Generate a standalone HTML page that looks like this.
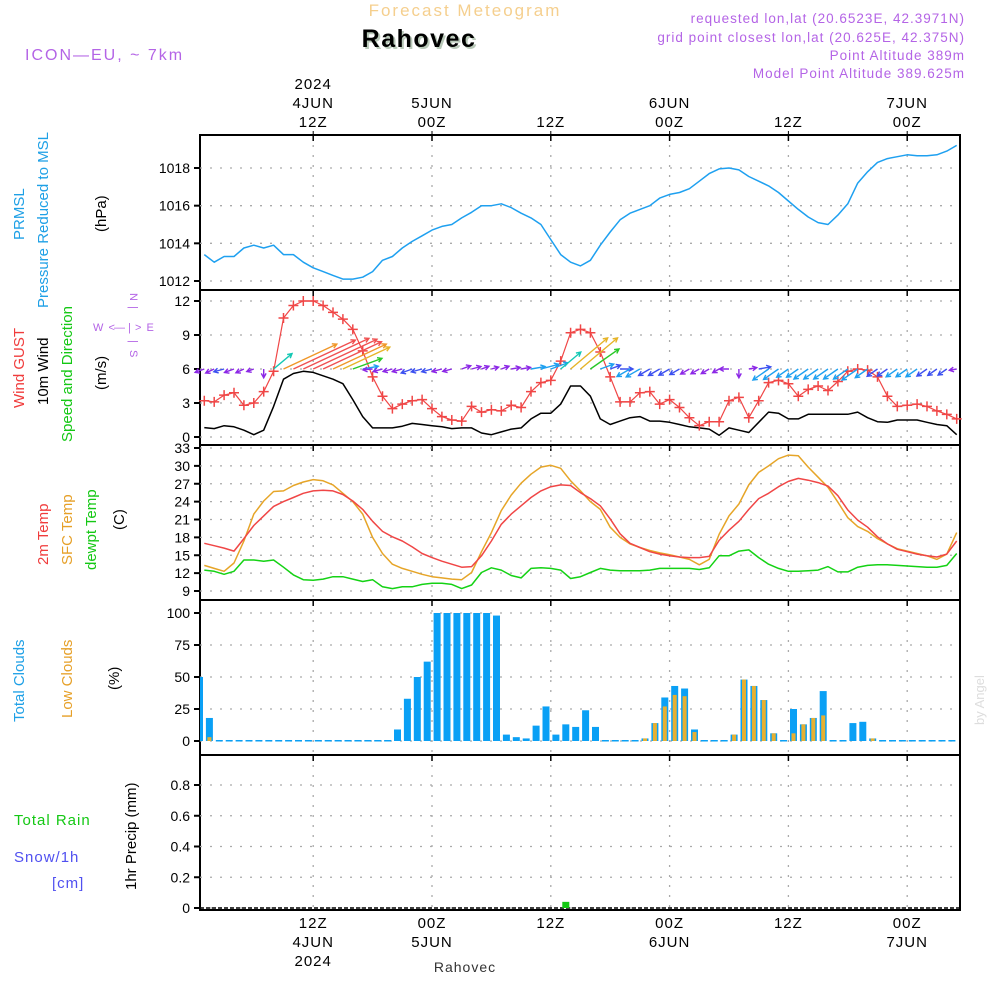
<!DOCTYPE html>
<html><head><meta charset="utf-8"><style>
body{margin:0;background:#fff;width:1000px;height:1000px;overflow:hidden}
svg{display:block}
text{font-family:"Liberation Sans",sans-serif}
</style></head><body>
<svg id="chart" width="1000" height="1000" xmlns="http://www.w3.org/2000/svg">
<g>
<text x="465" y="16" text-anchor="middle" font-size="17" fill="#f5cf8e" letter-spacing="2">Forecast Meteogram</text>
<text x="421" y="49" text-anchor="middle" font-size="25" font-weight="bold" font-family="Liberation Serif" fill="#b9c9b9" letter-spacing="1.5">Rahovec</text>
<text x="419" y="47" text-anchor="middle" font-size="25" font-weight="bold" font-family="Liberation Serif" fill="#000" letter-spacing="1.5">Rahovec</text>
<text x="25" y="60" font-size="16" fill="#b464e6" letter-spacing="2">ICON—EU, ~ 7km</text>
<g font-size="13.5" fill="#b464e6" text-anchor="end" letter-spacing="1">
<text x="965" y="23">requested lon,lat (20.6523E, 42.3971N)</text>
<text x="965" y="42">grid point closest lon,lat (20.625E, 42.375N)</text>
<text x="965" y="60">Point Altitude 389m</text>
<text x="965" y="78">Model Point Altitude 389.625m</text>
</g>
</g>
<g id="axes"></g>
<g id="marks"></g>
<g font-size="15">
<text transform="translate(24,240) rotate(-90)" fill="#1ea0e6">PRMSL</text>
<text transform="translate(48,308) rotate(-90)" fill="#1ea0e6">Pressure Reduced to MSL</text>
<text transform="translate(106,232) rotate(-90)" fill="#000">(hPa)</text>
<text transform="translate(24,408) rotate(-90)" fill="#f03c3c">Wind GUST</text>
<text transform="translate(48,405) rotate(-90)" fill="#000">10m Wind</text>
<text transform="translate(72,442) rotate(-90)" fill="#14c814">Speed and Direction</text>
<text transform="translate(106,390) rotate(-90)" fill="#000">(m/s)</text>
<text transform="translate(48,565) rotate(-90)" fill="#f03c3c">2m Temp</text>
<text transform="translate(72,565) rotate(-90)" fill="#e6a028">SFC Temp</text>
<text transform="translate(96,570) rotate(-90)" fill="#14c814">dewpt Temp</text>
<text transform="translate(124,530) rotate(-90)" fill="#000">(C)</text>
<text transform="translate(24,722) rotate(-90)" fill="#1ea0e6">Total Clouds</text>
<text transform="translate(72,718) rotate(-90)" fill="#e6a028">Low Clouds</text>
<text transform="translate(119,690) rotate(-90)" fill="#000">(%)</text>
<text x="14" y="825" fill="#14c814" letter-spacing="1">Total  Rain</text>
<text x="14" y="862" fill="#5050f0" letter-spacing="1">Snow/1h</text>
<text x="52" y="888" fill="#5050f0" letter-spacing="1">[cm]</text>
<text transform="translate(136,890) rotate(-90)" fill="#000">1hr Precip (mm)</text>
</g>
<g fill="#b464e6" font-size="11">
<text transform="translate(130,293) rotate(90)">N</text>
<text transform="translate(130,306) rotate(90)">|</text>
<text x="93" y="331" letter-spacing="1">W  &lt;</text>
<text x="128" y="331">|</text>
<text x="135" y="331" letter-spacing="1">&gt;  E</text>
<text x="114" y="331">—</text>
<text transform="translate(130,340) rotate(90)">|</text>
<text transform="translate(130,350) rotate(90)">S</text>
</g>
<text x="465" y="972" text-anchor="middle" font-size="14" font-family="Liberation Serif" fill="#333" letter-spacing="1">Rahovec</text>
<text transform="translate(984,725) rotate(-90)" font-size="13" font-family="Liberation Serif" fill="#ddd">by Angel</text>
</svg>
<script>
const pressure=[1013.4,1013.0,1013.3,1013.3,1013.75,1013.9,1013.75,1013.9,1013.4,1013.4,1013.0,1012.7,1012.5,1012.3,1012.1,1012.1,1012.2,1012.5,1013.1,1013.3,1013.75,1014.1,1014.4,1014.7,1014.9,1015.0,1015.35,1015.65,1016.0,1016.0,1016.1,1015.9,1015.6,1015.35,1015.0,1014.2,1013.4,1013.0,1012.8,1013.1,1013.9,1014.6,1015.25,1015.6,1015.8,1016.0,1016.4,1016.6,1016.7,1016.9,1017.3,1017.7,1017.95,1018.0,1017.9,1017.55,1017.3,1017.05,1016.7,1016.25,1015.8,1015.4,1015.1,1015.0,1015.5,1016.1,1017.2,1017.8,1018.3,1018.5,1018.6,1018.7,1018.65,1018.65,1018.7,1018.9,1019.2];
const gust=[3.2,3.1,3.7,3.9,2.8,3.0,4.0,5.8,10.5,11.6,12,12,11.6,11.0,10.4,9.5,7.6,5.3,3.6,2.5,2.9,3.2,3.3,2.5,1.8,1.5,1.4,2.7,2.2,2.4,2.3,2.8,2.6,4.0,4.8,5.0,6.7,9.2,9.5,9.2,7.5,5.3,3.1,3.1,3.9,4.0,2.9,3.3,2.6,1.7,1.0,1.35,1.35,3.2,3.5,1.7,3.2,4.8,5.0,4.7,3.6,4.2,4.5,4.1,4.9,5.8,6.0,5.9,5.3,3.6,2.7,2.8,2.9,2.7,2.3,2.0,1.6];
const wind=[0.83,0.74,1.0,0.9,0.6,0.2,0.6,2.7,5.1,5.6,5.8,5.7,5.4,5.1,4.7,3.3,1.8,0.8,0.8,0.8,0.95,1.2,1.1,1.0,0.9,0.74,0.8,0.8,0.35,0.2,0.45,0.7,0.8,1.6,2.1,2.1,2.9,4.5,4.5,3.6,1.6,1.1,1.4,1.7,1.8,1.4,1.4,1.3,1.1,0.9,0.8,0.7,0.15,0.8,0.6,0.4,1.3,2.2,2.1,1.6,1.6,2.0,2.0,2.0,2.0,2.0,2.2,1.7,1.35,1.3,1.5,1.5,1.5,1.3,1.1,1.0,0.2];
const windDir=[200,205,195,200,205,200,270,40,25,25,25,25,25,25,25,20,10,185,195,195,195,200,195,195,195,195,20,15,20,15,20,10,10,10,15,20,40,40,40,35,20,20,0,210,210,210,210,210,210,210,210,210,210,180,270,10,10,215,215,215,215,215,215,215,215,215,215,215,215,215,215,215,215,215,215,215,190];
const temp2m=[17.0,16.6,16.2,15.7,17.8,20.0,21.6,23.2,24.0,24.7,25.4,25.8,25.9,25.8,25.2,24.1,22.7,20.7,19.0,18.1,17.4,16.4,15.3,14.6,14.0,13.5,13.0,13.1,14.9,17.4,20.2,21.9,23.3,24.7,25.8,26.5,26.8,26.7,25.5,24.5,23.3,21.1,18.6,17.0,16.3,15.6,15.2,14.9,14.7,14.6,14.6,14.8,17.5,19.2,20.7,22.7,24.5,25.4,26.5,27.4,27.9,27.6,27.2,26.6,25.0,22.6,20.9,19.7,18.1,16.9,16.0,15.6,15.2,14.9,14.7,15.2,17.4];
const tempSfc=[13.3,12.8,12.3,13.7,17.4,21.9,24.1,25.7,25.8,26.7,27.3,27.7,27.5,26.8,25.4,24.0,21.9,18.0,15.3,13.5,12.8,12.3,11.8,11.4,11.2,11.0,10.9,12.1,15.6,18.8,22.5,25.1,27.1,28.6,29.8,30.1,29.6,27.5,25.8,24.0,22.7,19.7,18.0,16.9,16.3,15.8,15.4,15.1,14.7,14.3,13.4,14.3,18.5,21.6,23.6,26.8,28.9,30.0,31.2,31.8,31.7,29.8,28.1,26.4,23.9,21.3,19.8,19.0,17.8,16.9,16.1,15.7,15.3,14.9,14.3,15.2,18.8];
const dewpt=[12.5,12.3,11.8,12.3,14.2,14.2,14.0,14.2,13.0,11.7,10.9,10.8,11.0,11.4,11.4,11.0,10.6,10.9,9.7,9.4,9.7,9.7,10.1,10.3,10.3,10.1,9.4,10.0,12.1,12.9,12.5,11.6,11.2,12.8,12.9,12.8,12.5,11.1,11.4,12.1,12.8,12.5,12.4,12.4,12.4,12.5,12.8,12.8,12.8,12.8,12.6,12.9,14.9,14.9,15.7,15.9,14.6,13.5,12.8,12.3,12.3,12.4,12.5,13.1,12.2,12.2,13.0,13.3,13.4,13.4,13.3,13.2,13.1,13.0,13.0,13.3,15.3];
const totalClouds=[50,18,0,0,0,0,0,0,0,0,0,0,0,0,0,0,0,0,0,0,9,33,50,62,100,100,100,100,100,100,98,5,3,2,12,27,5,13,11,24,11,0,0,0,0,2,14,34,43,41,9,0,0,0,5,48,43,32,6,0,25,13,18,39,0,0,14,15,2,0,0,0,0,0,0,0,0];
const lowClouds=[0,3,0,0,0,0,0,0,0,0,0,0,0,0,0,0,0,0,0,0,0,0,0,0,0,0,0,0,0,0,0,0,0,0,0,0,0,0,0,0,0,0,0,0,0,2,14,27,36,35,7,0,0,0,5,48,43,32,6,0,6,13,18,20,0,0,0,0,2,0,0,0,0,0,0,0,0];
const precip=[0,0,0,0,0,0,0,0,0,0,0,0,0,0,0,0,0,0,0,0,0,0,0,0,0,0,0,0,0,0,0,0,0,0,0,0,0,0.04,0,0,0,0,0,0,0,0,0,0,0,0,0,0,0,0,0,0,0,0,0,0,0,0,0,0,0,0,0,0,0,0,0,0,0,0,0,0,0];
const pTicks=[1012,1014,1016,1018];
const wTicks=[0,3,6,9,12];
const tTicks=[9,12,15,18,21,24,27,30,33];
const cTicks=[0,25,50,75,100];
const rTicks=[0,0.2,0.4,0.6,0.8];
const timeIdx=[11,23,35,47,59,71];
const timeHour=['12Z','00Z','12Z','00Z','12Z','00Z'];
const timeDay=['4JUN','5JUN','','6JUN','','7JUN'];
const timeYear=['2024','','','','',''];

const NS='http://www.w3.org/2000/svg';
const L=200,R=960;
const X=i=>204.3+9.9*i;
const panels=[{t:135,b:290},{t:290,b:445},{t:445,b:600},{t:600,b:755},{t:755,b:910}];
function lin(d0,d1,r0,r1){return v=>r0+(v-d0)*(r1-r0)/(d1-d0);}
const yP=lin(1012,1018,281,168), yW=lin(0,12,437,301), yT=lin(9,33,591,448), yC=lin(0,100,741,613), yR=lin(0,0.8,908,785);
function mk(tag,attrs,parent){const e=document.createElementNS(NS,tag);for(const k in attrs)e.setAttribute(k,attrs[k]);parent.appendChild(e);return e;}
const axes=document.getElementById('axes'), marks=document.getElementById('marks');
function yAxis(ticks,ys,name,fmt){
  const g=mk('g',{},axes);
  
  
  ticks.forEach(v=>{const y=ys(v);
    mk('line',{x1:L,x2:R,y1:y,y2:y,stroke:'#aaa','stroke-dasharray':'2,8','stroke-width':1.3},g);
    mk('line',{x1:L-6,x2:L,y1:y,y2:y,stroke:'#000','stroke-width':2},g);
    const t=mk('text',{x:L-10,y:y+5,'text-anchor':'end','font-size':14,fill:'#000'},g);t.textContent=fmt?fmt(v):v;});
}
panels.forEach((p,k)=>{
  const g=mk('g',{},axes);
  
  
  timeIdx.forEach(i=>{mk('line',{x1:X(i),x2:X(i),y1:p.t,y2:p.b,stroke:'#aaa','stroke-dasharray':'2,8','stroke-width':1.3},g);
    mk('line',{x1:X(i),x2:X(i),y1:p.t,y2:p.t+6,stroke:'#000','stroke-width':1.5},g);});
  mk('rect',{x:L,y:p.t,width:R-L,height:p.b-p.t,fill:'none',stroke:'#000','stroke-width':2},g);
});
yAxis(pTicks,yP,'pressure-y-axis');
yAxis(wTicks,yW,'wind-y-axis');
yAxis(tTicks,yT,'temp-y-axis');
yAxis(cTicks,yC,'cloud-y-axis');
yAxis(rTicks,yR,'precip-y-axis',v=>v===0?'0':v.toFixed(1));
const tg=mk('g',{'font-size':15,fill:'#000','text-anchor':'middle','letter-spacing':1},axes);


timeIdx.forEach((i,k)=>{const x=X(i);
  const rows=[[timeYear[k],89],[timeDay[k],108],[timeHour[k],127]];
  rows.forEach(r=>{if(r[0]){const t=mk('text',{x:x,y:r[1]},tg);t.textContent=r[0];}});
  mk('line',{x1:x,x2:x,y1:131,y2:135,stroke:'#000'},tg);
  const b=[[timeHour[k],928],[timeDay[k],947],[timeYear[k],966]];
  b.forEach(r=>{if(r[0]){const t=mk('text',{x:x,y:r[1]},tg);t.textContent=r[0];}});
});
function line(arr,ys,color,name,w){
  const d=arr.map((v,i)=>(i?'L':'M')+X(i).toFixed(1)+','+ys(v).toFixed(1)).join('');
  const p=mk('path',{d:d,fill:'none',stroke:color,'stroke-width':w||1.5,'stroke-linejoin':'round'},marks);
  
  
}
line(pressure,yP,'#1ea0f0','pressure-line');
line(wind,yW,'#000','wind-speed-line');
line(gust,yW,'#f04646','wind-gust-line',1.2);
const cg=mk('g',{stroke:'#f04646','stroke-width':1.5},marks);


gust.forEach((v,i)=>{const x=X(i),y=yW(v);mk('path',{d:`M${x-5},${y}h10M${x},${y-5}v10`},cg);});
function wcol(s){if(s<1.0)return'#8c28e6';if(s<1.5)return'#3c50f0';if(s<2.3)return'#1ea0f0';if(s<3)return'#14c8b4';if(s<4)return'#28c828';if(s<4.8)return'#e6b428';if(s<5.3)return'#f09628';return'#f05050';}
const ag=mk('g',{'stroke-width':1.4,fill:'none'},marks);


windDir.forEach((dg,i)=>{const s=wind[i];const len=7+1.6*s*s+2*s;const a=dg*Math.PI/180;
  const x0=X(i),y0=yW(6);const x1=x0+len*Math.cos(a),y1=y0-len*Math.sin(a);
  const h=5,ang=Math.atan2(y1-y0,x1-x0);
  const p=`M${x0},${y0}L${x1},${y1}M${x1-h*Math.cos(ang-0.5)},${y1-h*Math.sin(ang-0.5)}L${x1},${y1}L${x1-h*Math.cos(ang+0.5)},${y1-h*Math.sin(ang+0.5)}`;
  mk('path',{d:p,stroke:wcol(s)},ag);});
line(tempSfc,yT,'#e6a528','sfc-temp-line');
line(temp2m,yT,'#f04646','temp-2m-line');
line(dewpt,yT,'#14d214','dewpoint-line');
const bg=mk('g',{},marks);


totalClouds.forEach((v,i)=>{const x=X(i)-4.8;const y=yC(v);
  mk('rect',{x:Math.max(L,x-3.5),y:y-(v?0:1),width:x-3.5<L?x+3.5-L:7,height:yC(0)-y+(v?0:1.5),fill:'#0aa0f5'},bg);
  const lv=lowClouds[i];const ly=yC(lv);
  if(lv>0)mk('rect',{x:x-2,y:ly,width:4,height:yC(0)-ly,fill:'#e6b032'},bg);});
const pg=mk('g',{},marks);


mk('line',{x1:L,x2:R,y1:yR(0),y2:yR(0),stroke:'#000','stroke-width':1.5,'stroke-dasharray':'4,2'},pg);
precip.forEach((v,i)=>{if(v>0){const x=X(i)-4.8;const y=yR(v);mk('rect',{x:x-3.5,y:y,width:7,height:yR(0)-y,fill:'#14c814'},pg);}});
</script>
</body></html>
